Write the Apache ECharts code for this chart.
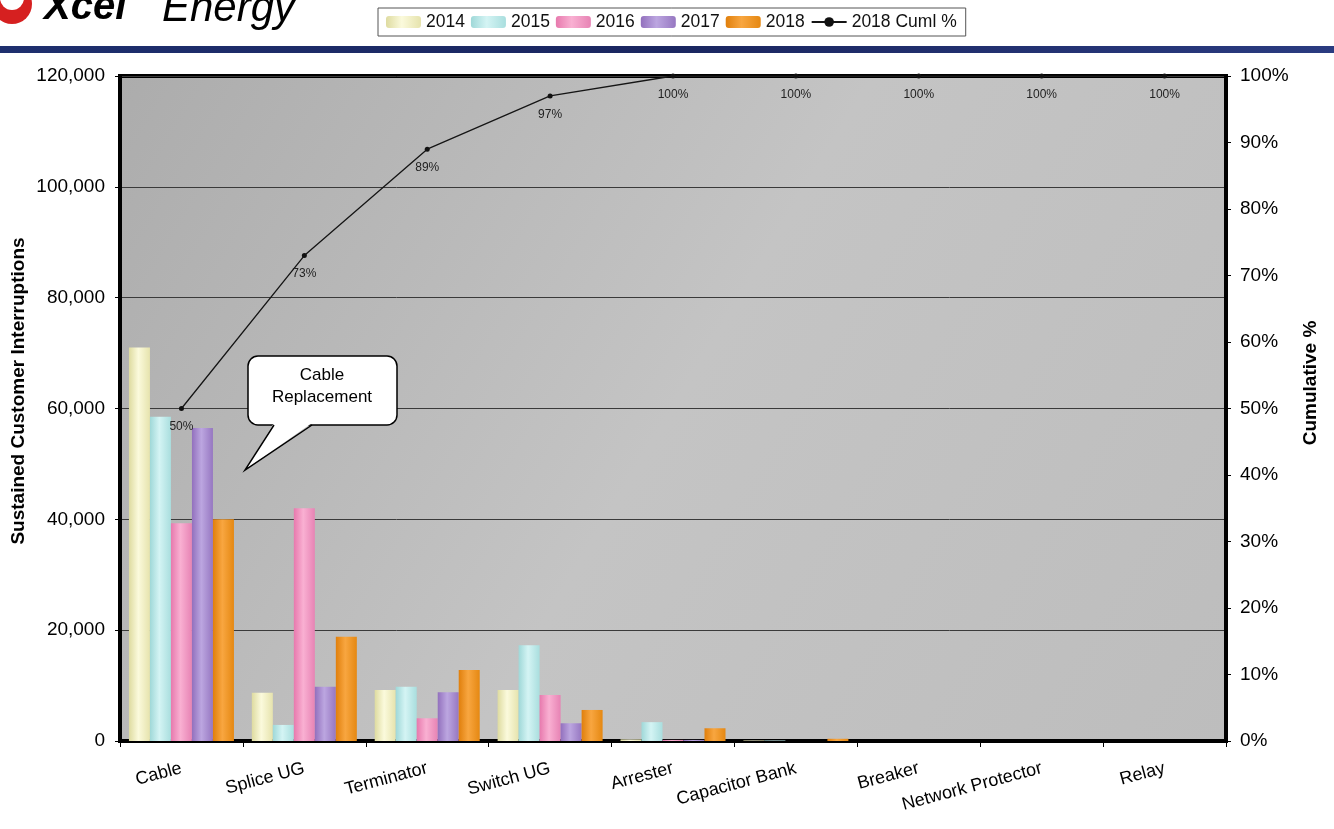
<!DOCTYPE html>
<html>
<head>
<meta charset="utf-8">
<script src="https://cdn.jsdelivr.net/npm/echarts@6/dist/echarts.min.js"></script>
<style>
html,body{margin:0;padding:0;background:#fff;}
#chart{width:1334px;height:829px;}
</style>
</head>
<body>
<div id="chart"></div>
<script>
const categories = ['Cable','Splice UG','Terminator','Switch UG','Arrester','Capacitor Bank','Breaker','Network Protector','Relay'];
const years = ['2014','2015','2016','2017','2018'];
const v2014 = [71000, 8700, 9200, 9200, 300, 100, 0, 0, 0];
const v2015 = [58500, 2900, 9800, 17300, 3400, 100, 0, 0, 0];
const v2016 = [39300, 42000, 4100, 8300, 200, 0, 0, 0, 0];
const v2017 = [56500, 9800, 8800, 3200, 200, 0, 0, 0, 0];
const v2018 = [40000, 18800, 12800, 5600, 2300, 400, 0, 0, 0];
const cuml2018 = [0.50, 0.73, 0.89, 0.97, 1.00, 1.00, 1.00, 1.00, 1.00];
const leftTicks = [0, 20000, 40000, 60000, 80000, 100000, 120000];
const cumlName = '2018 Cuml %';

const palettes = [
  ['#dedba0','#fbfadc','#e6e3ad'],
  ['#9fd8d8','#d4f4f4','#a9dede'],
  ['#e779ad','#f9b0d2','#e783b4'],
  ['#9270bd','#bca6e0','#9677c1'],
  ['#e07f0c','#f8a640','#e58812']
];
function grad(p){
  return new echarts.graphic.LinearGradient(0,0,1,0,[
    {offset:0,color:p[0]},{offset:0.45,color:p[1]},{offset:1,color:p[2]}
  ]);
}
const yearData = [v2014, v2015, v2016, v2017, v2018];
const barSeries = years.map((y,i)=>({
  name:y, type:'bar', yAxisIndex:0, data:yearData[i],
  barWidth:21, barGap:'0%',
  itemStyle:{color:grad(palettes[i])},
  z:3
}));

const chart = echarts.init(document.getElementById('chart'), null, {renderer:'canvas'});
const font = 'Arial, "Liberation Sans", sans-serif';
chart.setOption({
  animation:false,
  textStyle:{fontFamily:font},
  legend:{
    data:[...years, cumlName],
    left:378, top:8,
    itemWidth:35, itemHeight:12, itemGap:6,
    padding:[5,9,5,8],
    borderColor:'#555', borderWidth:1,
    textStyle:{fontSize:17.5, color:'#111', fontFamily:font}
  },
  grid:{left:120, right:108, top:76, bottom:88, show:true,
    backgroundColor:new echarts.graphic.LinearGradient(0,0,1,1,[
      {offset:0,color:'#acacac'},{offset:0.5,color:'#c4c4c4'},{offset:1,color:'#bdbdbd'}
    ]),
    borderColor:'#000', borderWidth:4},
  xAxis:{
    type:'category', data:categories,
    axisLine:{show:true, lineStyle:{color:'#000', width:4}},
    axisTick:{show:true, length:6, lineStyle:{color:'#000', width:1}},
    axisLabel:{rotate:15, fontSize:18, color:'#000', margin:27, interval:0}
  },
  yAxis:[
    {type:'value', min:0, max:120000, interval:20000, position:'left',
     axisLine:{show:true, lineStyle:{color:'#000', width:4}},
     axisTick:{show:true, length:5, lineStyle:{color:'#000'}},
     axisLabel:{fontSize:19, color:'#000', margin:15},
     splitLine:{show:true, lineStyle:{color:'#3a3a3a', width:1}}
    },
    {type:'value', min:0, max:1, interval:0.1, position:'right',
     axisLine:{show:true, lineStyle:{color:'#000', width:4}},
     axisTick:{show:true, length:5, lineStyle:{color:'#000'}},
     axisLabel:{fontSize:19, color:'#000', margin:14,
       formatter:v=>Math.round(v*100)+'%'},
     splitLine:{show:false}
    }
  ],
  series:[
    ...barSeries,
    {name:cumlName, type:'line', yAxisIndex:1, data:cuml2018,
     symbol:'circle', symbolSize:5, z:10,
     lineStyle:{color:'#151515', width:1.3}, itemStyle:{color:'#111'},
     label:{show:true, position:'bottom', distance:10, fontSize:12, color:'#222',
       formatter:p=>Math.round(p.value*100)+'%'}
    }
  ],
  graphic:[
    {type:'rect', left:0, top:46, shape:{width:1334, height:7},
     style:{fill:new echarts.graphic.LinearGradient(0,0,1,0,[
       {offset:0,color:'#1e2f6e'},{offset:0.5,color:'#1a2660'},{offset:1,color:'#2a3b80'}])}},
    {type:'circle', left:-8, top:-16, shape:{r:20}, style:{fill:'#d62020'}},
    {type:'circle', left:0, top:-14, shape:{r:12}, style:{fill:'#fff'}},
    {type:'text', left:44, top:-12, style:{text:'Xcel', font:'italic bold 40px Arial', fill:'#000'}},
    {type:'text', left:162, top:-12, style:{text:'Energy', font:'italic 42px Arial', fill:'#000'}},
    {type:'text', x:19, y:391, rotation:Math.PI/2,
     style:{text:'Sustained Customer Interruptions', font:'bold 19px Arial', fill:'#000', align:'center', verticalAlign:'middle'}},
    {type:'text', x:1311, y:383, rotation:Math.PI/2,
     style:{text:'Cumulative %', font:'bold 19px Arial', fill:'#000', align:'center', verticalAlign:'middle'}},
    {type:'rect', shape:{x:248, y:356, width:149, height:69, r:10},
     style:{fill:'#fff', stroke:'#000', lineWidth:1.5}, z:100},
    {type:'polygon', shape:{points:[[274,423],[312,423],[245,470]]},
     style:{fill:'#fff', stroke:null}, z:101},
    {type:'polyline', shape:{points:[[274,425],[245,470],[312,425]]},
     style:{stroke:'#000', lineWidth:1.5, fill:null}, z:102},
    {type:'text', x:322, y:375, z:103,
     style:{text:'Cable', font:'17px Arial', fill:'#000', align:'center', verticalAlign:'middle'}},
    {type:'text', x:322, y:397, z:103,
     style:{text:'Replacement', font:'17px Arial', fill:'#000', align:'center', verticalAlign:'middle'}}
  ]
});
</script>
</body>
</html>
